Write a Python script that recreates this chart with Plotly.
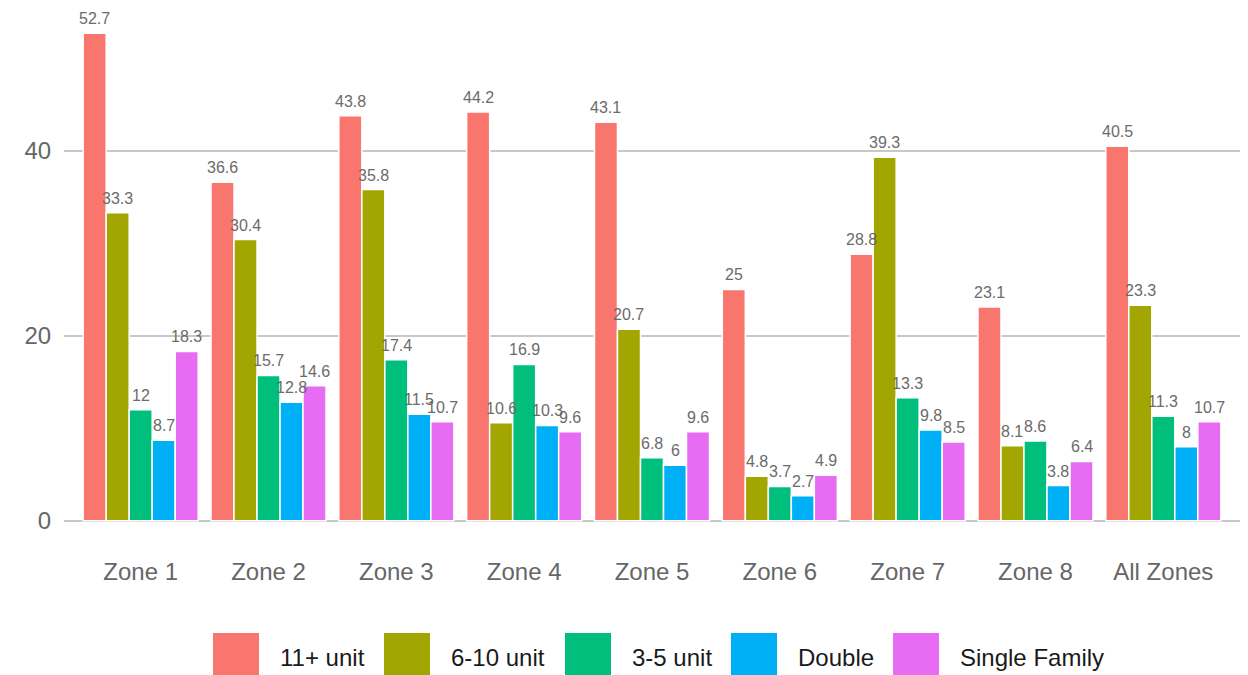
import plotly.graph_objects as go

zones = ["Zone 1", "Zone 2", "Zone 3", "Zone 4", "Zone 5", "Zone 6", "Zone 7", "Zone 8", "All Zones"]
series_names = ["11+ unit", "6-10 unit", "3-5 unit", "Double", "Single Family"]
colors = ["#F8766D", "#A3A500", "#00BF7D", "#00B0F6", "#E76BF3"]

unit_11_plus = [52.7, 36.6, 43.8, 44.2, 43.1, 25, 28.8, 23.1, 40.5]
unit_6_10 = [33.3, 30.4, 35.8, 10.6, 20.7, 4.8, 39.3, 8.1, 23.3]
unit_3_5 = [12, 15.7, 17.4, 16.9, 6.8, 3.7, 13.3, 8.6, 11.3]
double = [8.7, 12.8, 11.5, 10.3, 6, 2.7, 9.8, 3.8, 8]
single_family = [18.3, 14.6, 10.7, 9.6, 9.6, 4.9, 8.5, 6.4, 10.7]

all_series = [unit_11_plus, unit_6_10, unit_3_5, double, single_family]

FONT = "Liberation Sans, Arial, sans-serif"
# page body has an 8px margin; compensate so the plot lands where the reference has it
OFF = 8
W, H = 1248 - OFF, 675 - OFF
ML, MR, MT, MB = 64 - OFF, 8, 9 - OFF, 130
PW, PH = W - ML - MR, H - MT - MB

fig = go.Figure()
for name, vals, col in zip(series_names, all_series, colors):
    fig.add_trace(go.Bar(
        x=zones, y=vals, name=name,
        marker=dict(color=col, line=dict(color="white", width=1.5)),
        showlegend=False,
    ))

bargap = 0.1
n = len(all_series)
bw = (1 - bargap) / n
annotations = []
for i, vals in enumerate(all_series):
    for j, v in enumerate(vals):
        annotations.append(dict(
            x=j + (i - (n - 1) / 2) * bw, y=v, xref="x", yref="y",
            text=f"{v:g}", showarrow=False, yanchor="bottom", yshift=4,
            font=dict(family=FONT, size=16, color="#6b6b6b"),
        ))

# manual legend (large swatches), positions given in page pixels
box_left_px = [213, 384, 565, 731, 893]
box_w_px = 46
box_top_px, box_bot_px = 633, 690
text_center_px = 657
def px_x(p):
    return (p - OFF - ML) / PW
def px_y(p):
    return (H - MB - (p - OFF)) / PH

shapes = []
for name, col, bl in zip(series_names, colors, box_left_px):
    shapes.append(dict(
        type="rect", xref="paper", yref="paper",
        x0=px_x(bl), x1=px_x(bl + box_w_px),
        y0=px_y(box_bot_px), y1=px_y(box_top_px),
        fillcolor=col, line=dict(width=0), layer="above",
    ))
    annotations.append(dict(
        x=px_x(bl + box_w_px + 19), y=px_y(text_center_px), xref="paper", yref="paper",
        text=name, showarrow=False, xanchor="left", yanchor="middle",
        font=dict(family=FONT, size=24, color="#1a1a1a"),
    ))

fig.update_layout(
    template="none",
    width=W, height=H,
    margin=dict(l=ML, r=MR, t=MT, b=MB, pad=0, autoexpand=False),
    plot_bgcolor="white", paper_bgcolor="white",
    barmode="group", bargap=bargap, bargroupgap=0,
    font=dict(family=FONT),
    annotations=annotations, shapes=shapes,
    showlegend=False,
)
fig.update_xaxes(
    range=[-0.6, 8.6], automargin=False,
    showgrid=False, showline=False, zeroline=False,
    ticks="outside", ticklen=5, tickcolor="rgba(0,0,0,0)",
    tickfont=dict(family=FONT, size=24, color="#666666"),
)
fig.update_yaxes(
    range=[-2.635, 55.335], tickvals=[0, 20, 40], automargin=False,
    showgrid=True, gridcolor="#c8c8c8", gridwidth=2,
    showline=False, zeroline=False,
    ticks="outside", ticklen=7, tickcolor="rgba(0,0,0,0)",
    tickfont=dict(family=FONT, size=24, color="#666666"),
)

fig.write_html("out.html")
